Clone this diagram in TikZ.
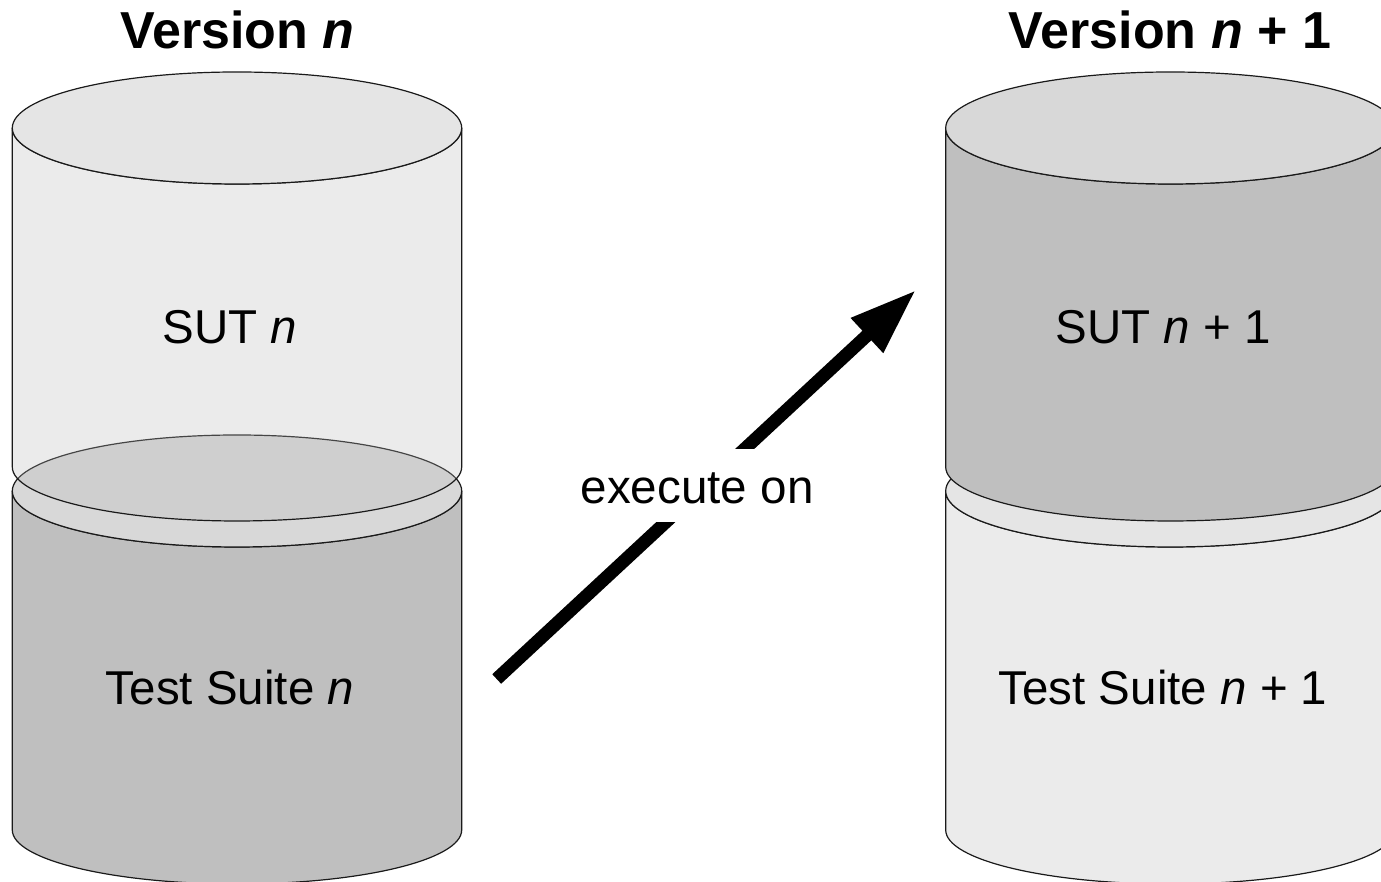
\documentclass[tikz,border=0pt]{standalone}
\usepackage{fontspec}
\setmainfont{Liberation Sans}
\usetikzlibrary{arrows.meta}

\definecolor{linec}{HTML}{1A1A1A}
\definecolor{lightfill}{HTML}{EBEBEB}
\definecolor{lighttop}{HTML}{E5E5E5}
\definecolor{darkfill}{HTML}{BFBFBF}
\definecolor{darktop}{HTML}{D8D8D8}
\definecolor{glassfill}{HTML}{B8B8B8}

% cylinder: #1 centre x, #2 top y, #3 bottom y, #4 body style, #5 lid style
\newcommand{\drum}[5]{%
  \path[#4] (#1-224.7,#2) arc[start angle=180,end angle=360,x radius=224.7,y radius=56]
    -- (#1+224.7,#3) arc[start angle=0,end angle=-180,x radius=224.7,y radius=54] -- cycle;
  \path[#5] (#1,#2) ellipse[x radius=224.7,y radius=56];
}

\begin{document}
\begin{tikzpicture}[x=1pt,y=1pt,line width=1.2pt,
  title/.style={font=\fontsize{52}{60}\selectfont\bfseries,anchor=base},
  bodytxt/.style={font=\fontsize{47.5}{56}\selectfont,anchor=base},
  execlbl/.style={font=\fontsize{47.6}{56}\selectfont,fill=white,inner xsep=4pt,inner ysep=0pt,
    text height=54pt,text depth=19pt},
  execarrow/.style={line width=13pt,-{Triangle[length=67pt,width=44pt]}}]
\useasboundingbox (0,0) rectangle (1381,882);
\clip (0,0) rectangle (1381,882);

% version n
\drum{237}{391}{52}{fill=darkfill,draw=linec}{fill=darktop,draw=linec}
\drum{237}{754}{415}{fill=glassfill,fill opacity=0.28,draw=linec}{fill=lighttop,draw=linec}

% version n + 1
\drum{1170.4}{391}{52}{fill=lightfill,draw=linec}{fill=lighttop,draw=linec}
\drum{1170.4}{754}{415}{fill=darkfill,draw=linec}{fill=darktop,draw=linec}

\node[title] (verL) at (237.5,833) {Version \textit{n}};
\node[title] (verR) at (1170,833) {Version \textit{n} + 1};

\node[bodytxt] (sutL) at (230,538) {SUT \textit{n}};
\node[bodytxt] (suiteL) at (230,177) {Test Suite \textit{n}};
\node[bodytxt] (sutR) at (1163,538) {SUT \textit{n} + 1};
\node[bodytxt] (suiteR) at (1163,177) {Test Suite \textit{n} + 1};

\coordinate (execS) at (496.7,203);
\coordinate (execE) at (916,592);
\draw[execarrow] (execS) -- node[execlbl,pos=0.478,yshift=7.5pt] (exec) {execute on} (execE);
\end{tikzpicture}
\end{document}
